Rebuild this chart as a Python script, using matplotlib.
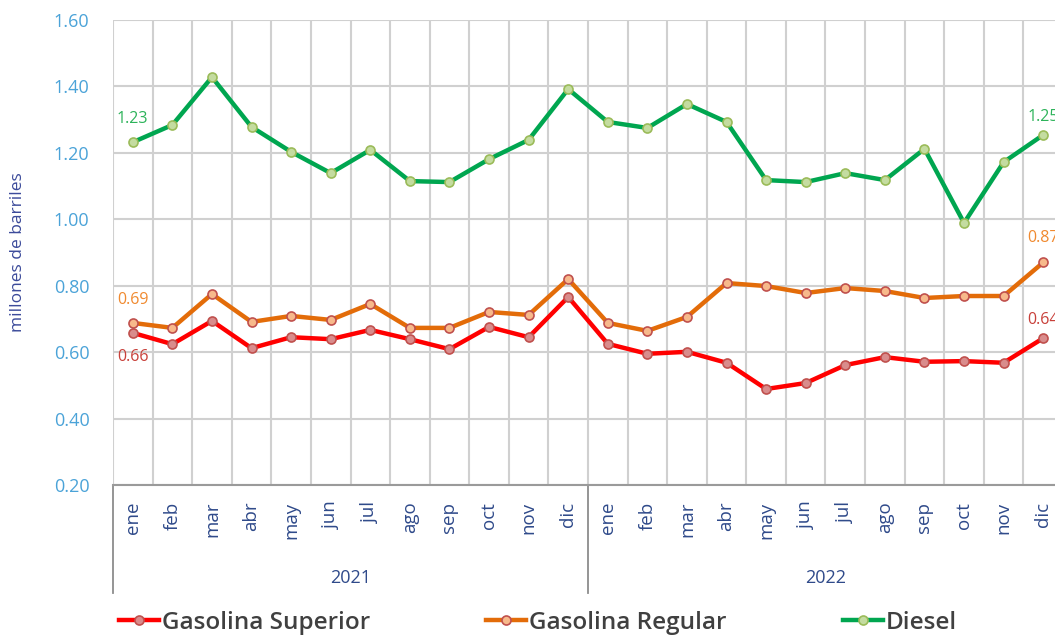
import matplotlib
matplotlib.use("Agg")
import matplotlib.pyplot as plt
import matplotlib.transforms as mtransforms
import numpy as np

plt.rcParams['font.family'] = ['Open Sans', 'DejaVu Sans']

meses = ['ene', 'feb', 'mar', 'abr', 'may', 'jun', 'jul', 'ago', 'sep', 'oct', 'nov', 'dic']
anios = ['2021', '2022']

superior = [0.658, 0.624, 0.694, 0.612, 0.645, 0.639, 0.667, 0.639, 0.609, 0.676, 0.645, 0.766,
            0.625, 0.595, 0.601, 0.568, 0.489, 0.507, 0.561, 0.585, 0.571, 0.573, 0.568, 0.642]
regular = [0.688, 0.673, 0.775, 0.691, 0.709, 0.697, 0.745, 0.673, 0.673, 0.721, 0.712, 0.820,
           0.688, 0.664, 0.706, 0.808, 0.799, 0.778, 0.793, 0.784, 0.763, 0.769, 0.769, 0.870]
diesel = [1.232, 1.284, 1.428, 1.278, 1.203, 1.139, 1.209, 1.115, 1.112, 1.181, 1.239, 1.392,
          1.293, 1.275, 1.347, 1.293, 1.118, 1.112, 1.139, 1.118, 1.212, 0.989, 1.172, 1.254]

etiquetas_ini = ['0.66', '0.69', '1.23']
etiquetas_fin = ['0.64', '0.87', '1.25']

series = [
    ('Gasolina Superior', superior, '#FF0000', '#D98C8C', '#C0504D', '#C8403A'),
    ('Gasolina Regular', regular, '#E36C09', '#F7B98B', '#C0504D', '#F08A30'),
    ('Diesel', diesel, '#00A650', '#C4DCA0', '#9BBB59', '#2DB35A'),
]

fig = plt.figure(figsize=(10.55, 6.36), dpi=100)
ax = fig.add_axes([113/1055, 1-485/636, 950/1055, 465/636])

x = np.arange(len(superior))
handles = []
for nombre, vals, col, mfc, mec, tcol in series:
    h, = ax.plot(x, vals, color=col, lw=3.2, marker='o', ms=6.5, mfc=mfc, mec=mec,
                 mew=1.2, label=nombre, zorder=3)
    handles.append(h)

ax.set_xlim(-0.5, len(x) - 0.5)
ax.set_ylim(0.2, 1.6)
ax.set_yticks(np.arange(0.2, 1.61, 0.2))
ax.set_yticklabels(['%.2f' % v for v in np.arange(0.2, 1.61, 0.2)])
ax.set_xticks([])
ax.set_xticks(np.arange(-0.5, len(x), 1), minor=True)
ax.tick_params(axis='x', which='both', length=0)
ax.tick_params(axis='y', length=0, pad=17, labelsize=13, labelcolor='#4BA3D8')
ax.grid(True, axis='y', color='#D0D0D0', lw=1.5)
ax.grid(True, axis='x', which='minor', color='#D0D0D0', lw=1.5)
ax.set_axisbelow(True)
for s in ['top', 'right', 'left']:
    ax.spines[s].set_visible(False)
ax.spines['bottom'].set_color('#9A9A9A')
ax.spines['bottom'].set_linewidth(1.5)

ax.set_ylabel('millones de barriles', color='#3B4A9A', fontsize=12.5, labelpad=20)

# etiquetas de valor
off_ini = [-24, 23, 23]
off_fin = [18, 24, 18]
for (nombre, vals, col, mfc, mec, tcol), ei, ef, o1, o2 in zip(series, etiquetas_ini, etiquetas_fin, off_ini, off_fin):
    ax.annotate(ei, (0, vals[0]), xytext=(0, o1), textcoords='offset pixels',
                ha='center', va='center', color=tcol, fontsize=11.5)
    ax.annotate(ef, (len(x) - 1, vals[-1]), xytext=(0, o2), textcoords='offset pixels',
                ha='center', va='center', color=tcol, fontsize=11.5, annotation_clip=False)

# eje de categorias en dos niveles
trans = mtransforms.blended_transform_factory(ax.transData, ax.transAxes)
for i in x:
    ax.text(i, -0.036, meses[i % 12], transform=trans, rotation=90, ha='center', va='top',
            fontsize=13.5, color='#2F4A8A')
for k, a in enumerate(anios):
    ax.text(k * 12 + 5.5, -0.2, a, transform=trans, ha='center', va='center',
            fontsize=13, color='#2F4A8A')
for xb in [-0.5, 11.5, 23.5]:
    ax.plot([xb, xb], [0, -0.232], transform=trans, color='#8C8C8C', lw=1.3, clip_on=False)

fig.legend(handles=handles, loc='center left', bbox_to_anchor=(119/1055, 1-623/636),
           ncol=3, frameon=False, borderpad=0, borderaxespad=0, handlelength=1.65,
           handletextpad=0.1, columnspacing=4.8,
           prop={'size': 17.5, 'weight': 'semibold'}, labelcolor='#404040')

fig.savefig('out.png', dpi=100)
